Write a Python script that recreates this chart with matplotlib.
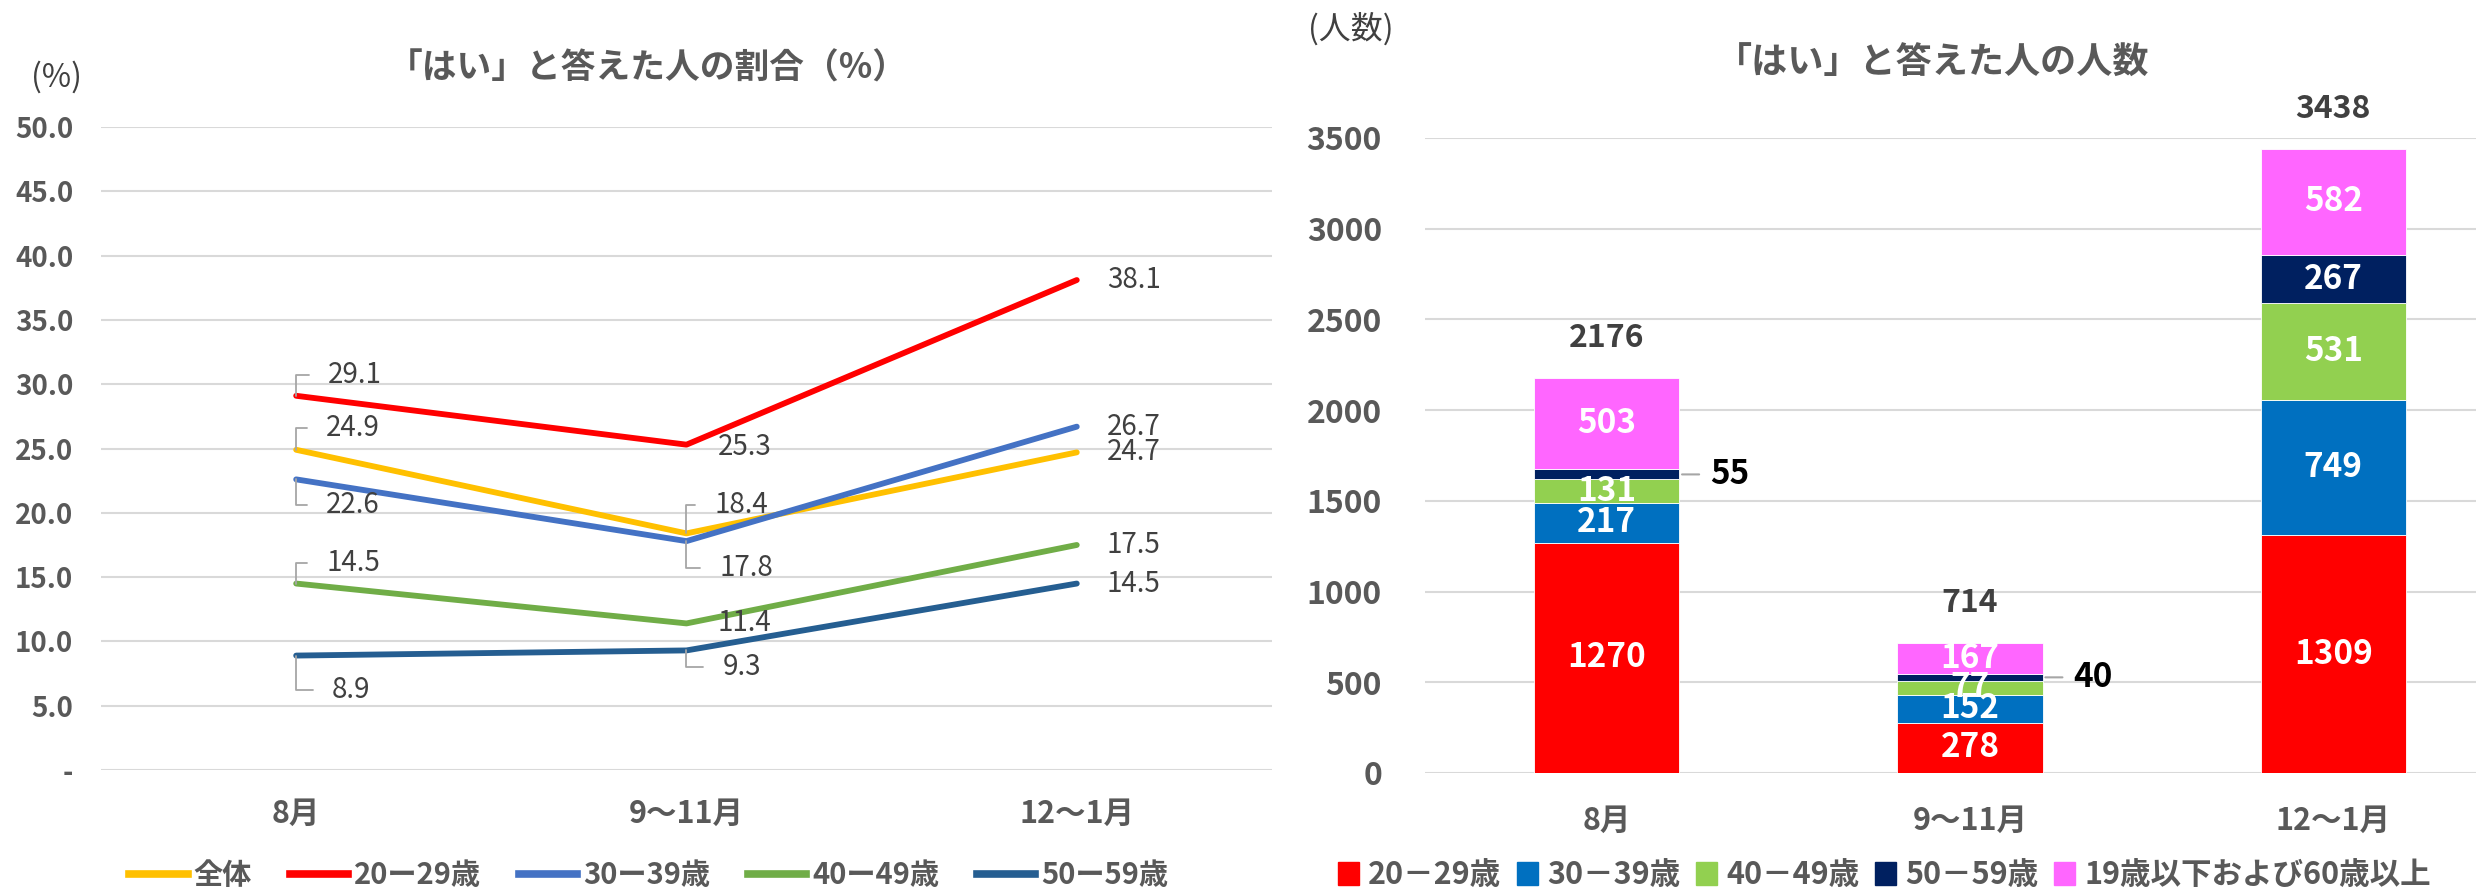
import matplotlib.pyplot as plt
from matplotlib.lines import Line2D
from matplotlib.patches import Patch
import numpy as np

plt.rcParams['font.family'] = ['Noto Sans CJK JP', 'DejaVu Sans']

periods = ['8月', '9～11月', '12～1月']

# left: share of people who answered "yes" (%)
ratio_names = ['全体', '20ー29歳', '30ー39歳', '40ー49歳', '50ー59歳']
ratio_all = [24.9, 18.4, 24.7]
ratio_20s = [29.1, 25.3, 38.1]
ratio_30s = [22.6, 17.8, 26.7]
ratio_40s = [14.5, 11.4, 17.5]
ratio_50s = [8.9, 9.3, 14.5]

# right: number of people who answered "yes"
count_names = ['20－29歳', '30－39歳', '40－49歳', '50－59歳', '19歳以下および60歳以上']
count_20s = [1270, 278, 1309]
count_30s = [217, 152, 749]
count_40s = [131, 77, 531]
count_50s = [55, 40, 267]
count_other = [503, 167, 582]

GRAY = '#595959'
DARK = '#404040'

fig = plt.figure(figsize=(24.76, 8.90), dpi=100)
ax1 = fig.add_axes([0.0408, 0.1348, 0.4729, 0.7225])
ax2 = fig.add_axes([0.5755, 0.1315, 0.4402, 0.7135])

x = np.arange(len(periods))

# ---- left chart
series = [ratio_all, ratio_20s, ratio_30s, ratio_40s, ratio_50s]
line_colors = ['#FFC000', '#FF0000', '#4472C4', '#70AD47', '#255E91']
# label offsets in pixels from each point
offsets = [
    [(30, 22), (28, 28), (30, 0)],
    [(32, 21), (31, -2), (30, 0)],
    [(30, -26), (33, -27), (30, 0)],
    [(30, 21), (31, 0), (30, 0)],
    [(36, -34), (36, -17), (30, 0)],
]
for vals, c in zip(series, line_colors):
    ax1.plot(x, vals, color=c, lw=4.2, solid_capstyle='round', zorder=3)

for vals, offs in zip(series, offsets):
    for xi, v, (dx, dy) in zip(x, vals, offs):
        arrow = None
        if abs(dy) > 5:
            arrow = dict(arrowstyle='-', color='#A6A6A6', lw=1.3, shrinkA=12, shrinkB=0,
                         relpos=(0, 0.5), connectionstyle='angle,angleA=0,angleB=90,rad=0')
        ax1.annotate(f'{v:.1f}', (xi, v), xytext=(dx, dy), textcoords='offset pixels',
                     ha='left', va='center', fontsize=20, color=DARK,
                     arrowprops=arrow, zorder=5)

ax1.set_xlim(-0.5, 2.5)
ax1.set_ylim(0, 50)
ax1.set_yticks(np.arange(0, 51, 5))
ax1.set_yticklabels(['-'] + [f'{v:.1f}' for v in range(5, 51, 5)])
ax1.set_xticks(x, periods)
ax1.grid(axis='y', color='#D9D9D9', lw=1.5)
ax1.set_axisbelow(True)
for s in ax1.spines.values():
    s.set_visible(False)
ax1.tick_params(length=0)
ax1.tick_params(axis='y', pad=20, labelsize=20, labelcolor=GRAY)
ax1.tick_params(axis='x', pad=20, labelsize=22, labelcolor=GRAY)
for t in ax1.get_xticklabels() + ax1.get_yticklabels():
    t.set_fontweight('bold')

# ---- right chart
stack = [count_20s, count_30s, count_40s, count_50s, count_other]
bar_colors = ['#FF0000', '#0070C0', '#92D050', '#002060', '#FF66FF']
bottom = np.zeros(len(periods))
for vals, c in zip(stack, bar_colors):
    ax2.bar(x, vals, 0.4, bottom=bottom, color=c, edgecolor='white', lw=0.6, zorder=3)
    for xi, v, b in zip(x, vals, bottom):
        mid = b + v / 2
        if v < 60:
            ax2.annotate(str(v), (xi + 0.2, mid), xytext=(31, 0), textcoords='offset pixels',
                         ha='left', va='center', fontsize=24, fontweight='bold', color='black',
                         arrowprops=dict(arrowstyle='-', color='#A6A6A6', lw=1.5,
                                         shrinkA=6, shrinkB=2, relpos=(0, 0.5)),
                         zorder=5)
        else:
            ax2.text(xi, mid, str(v), ha='center', va='center', fontsize=24,
                     fontweight='bold', color='white', zorder=5)
    bottom += np.array(vals)

for xi, total in zip(x, bottom):
    ax2.annotate(str(int(total)), (xi, total), xytext=(0, 40), textcoords='offset pixels',
                 ha='center', va='center', fontsize=23, fontweight='bold', color=DARK)

ax2.set_xlim(-0.5, 2.5)
ax2.set_ylim(0, 3500)
ax2.set_yticks(np.arange(0, 3501, 500))
ax2.set_xticks(x, periods)
ax2.grid(axis='y', color='#D9D9D9', lw=1.5)
ax2.set_axisbelow(True)
for s in ax2.spines.values():
    s.set_visible(False)
ax2.tick_params(length=0)
ax2.tick_params(axis='y', pad=31, labelsize=23, labelcolor=GRAY)
ax2.tick_params(axis='x', pad=23, labelsize=22, labelcolor=GRAY)
for t in ax2.get_xticklabels() + ax2.get_yticklabels():
    t.set_fontweight('bold')

# ---- titles, units, legends
fig.text(648 / 2476, 1 - 68 / 890, '「はい」と答えた人の割合（%）', ha='center', va='center',
         fontsize=25, fontweight='bold', color=GRAY)
fig.text(1933 / 2476, 1 - 63 / 890, '「はい」と答えた人の人数', ha='center', va='center',
         fontsize=26, fontweight='bold', color=GRAY)
fig.text(56 / 2476, 1 - 77 / 890, '(%)', ha='center', va='center', fontsize=23, color=DARK)
fig.text(1351 / 2476, 1 - 29 / 890, '(人数)', ha='center', va='center', fontsize=23, color=DARK)

line_handles = [Line2D([], [], color=c, lw=5.5) for c in line_colors]
fig.legend(line_handles, ratio_names, loc='center', bbox_to_anchor=(0.262, 0.017), ncol=5,
           frameon=False, prop=dict(weight='bold', size=21), labelcolor=GRAY,
           handlelength=2.0, handletextpad=0.2, columnspacing=1.3)

bar_handles = [Patch(color=c) for c in bar_colors]
fig.legend(bar_handles, count_names, loc='center', bbox_to_anchor=(0.761, 0.017), ncol=5,
           frameon=False, prop=dict(weight='bold', size=22), labelcolor=GRAY,
           handlelength=0.7, handleheight=0.8, handletextpad=0.3, columnspacing=0.5)

fig.savefig('out.png', dpi=100)
